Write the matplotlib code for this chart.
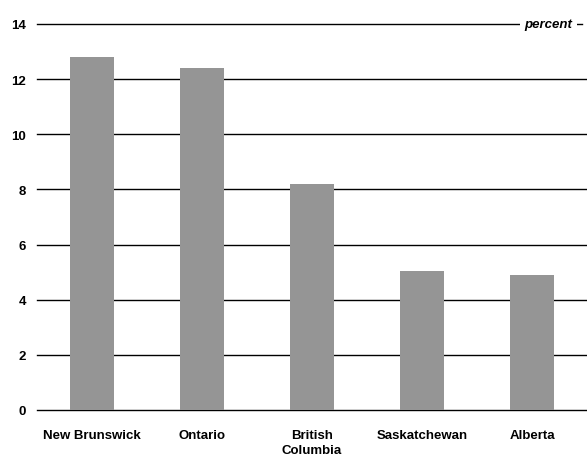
import matplotlib
matplotlib.use("Agg")
import matplotlib.pyplot as plt

provinces = ["New Brunswick", "Ontario", "British\nColumbia", "Saskatchewan", "Alberta"]
values = [12.8, 12.4, 8.2, 5.05, 4.9]
yticks = [0, 2, 4, 6, 8, 10, 12, 14]

plt.rcParams["font.family"] = ["Liberation Sans", "DejaVu Sans"]
plt.rcParams["font.weight"] = "bold"

fig = plt.figure(figsize=(5.87, 4.6), dpi=100)
ax = fig.add_axes([37 / 587, 1 - 411 / 460, 550 / 587, 386 / 460])

for y in yticks[:-1]:
    ax.axhline(y, color="black", lw=1.0, zorder=1, clip_on=False)
# top rule stops just short of the right edge
ax.plot([-0.5, 4.45], [14, 14], color="black", lw=1.0, zorder=1, clip_on=False)

x = list(range(len(provinces)))
ax.bar(x, values, width=0.4, color="#959595", zorder=2)

ax.set_xlim(-0.5, len(provinces) - 0.5)
ax.set_ylim(0, 14)
ax.set_yticks(yticks)
ax.set_yticklabels([str(t) for t in yticks], fontsize=9.5, fontweight="bold")
ax.set_xticks(x)
ax.set_xticklabels(provinces, fontsize=9.5, fontweight="bold", linespacing=1.3)
ax.tick_params(axis="both", length=0)
ax.tick_params(axis="y", pad=8)
ax.tick_params(axis="x", pad=14)
for s in ax.spines.values():
    s.set_visible(False)

ax.text(4.15, 14, "percent", ha="center", va="center", fontsize=9.5,
        fontweight="bold", fontstyle="italic",
        bbox=dict(facecolor="white", edgecolor="none", pad=3), zorder=3)

fig.savefig("out.png", dpi=100)
